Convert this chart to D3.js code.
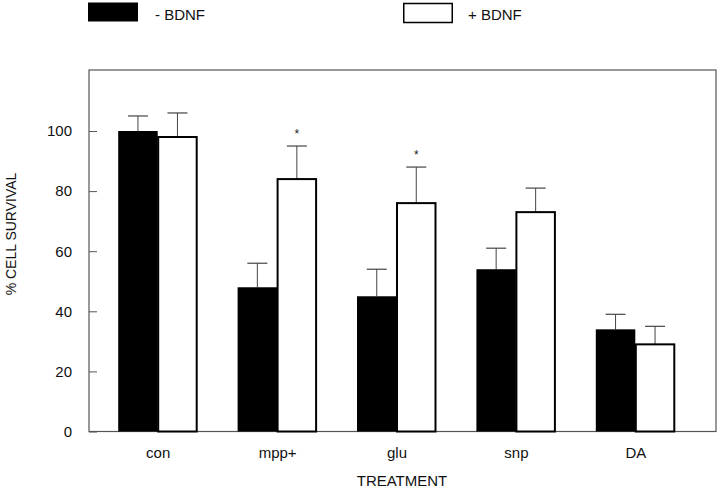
<!DOCTYPE html>
<html>
<head>
<meta charset="utf-8">
<script src="https://cdn.jsdelivr.net/npm/d3@7"></script>
<style>
  body { margin: 0; background: #fff; }
  svg { display: block; font-family: "Liberation Sans", Arial, Helvetica, sans-serif; }
</style>
</head>
<body>
<svg id="chart" width="720" height="488"></svg>
<script>
const categories = ["con", "mpp+", "glu", "snp", "DA"];
const seriesNames = ["- BDNF", "+ BDNF"];
const minusBDNF = [100, 48, 45, 54, 34];
const minusBDNFErr = [5, 8, 9, 7, 5];
const plusBDNF = [98, 84, 76, 73, 29];
const plusBDNFErr = [8, 11, 12, 8, 6];
const significant = [false, true, true, false, false];
const yTicks = [0, 20, 40, 60, 80, 100];
const yLabel = "% CELL SURVIVAL";
const xLabel = "TREATMENT";

const svg = d3.select("#chart");
const pLeft = 89, pRight = 716, pTop = 70, pBottom = 431.5;
const FONT = "Liberation Sans, Arial, sans-serif";

const y = d3.scaleLinear().domain([0, 120.3]).range([pBottom, pTop]);
const x = d3.scaleBand().domain(categories).range([98.5, 695.5]).padding(0);
const sub = d3.scaleBand().domain([0, 1]).range([0, 79]).padding(0);

const data = categories.map((c, i) => ({
  cat: c,
  vals: [
    { s: 0, v: minusBDNF[i], e: minusBDNFErr[i] },
    { s: 1, v: plusBDNF[i], e: plusBDNFErr[i] }
  ],
  sig: significant[i]
}));

const groupX = c => x(c) + x.bandwidth() / 2 - 40;

// frame
svg.append("rect")
  .attr("x", pLeft).attr("y", pTop)
  .attr("width", pRight - pLeft).attr("height", pBottom - pTop)
  .attr("fill", "none").attr("stroke", "#555").attr("stroke-width", 1.2);

// y axis with inward ticks
const yAxis = d3.axisLeft(y).tickValues(yTicks).tickSize(-8).tickPadding(17);
const yg = svg.append("g").attr("transform", `translate(${pLeft},0)`).call(yAxis);
yg.select(".domain").remove();
yg.selectAll(".tick line").attr("stroke", "#555");
yg.selectAll(".tick text").attr("font-size", 15).attr("fill", "#111")
  .attr("font-family", FONT);

// bars
const groups = svg.append("g").selectAll("g").data(data).join("g")
  .attr("transform", d => `translate(${groupX(d.cat)},0)`);

// error bars
groups.selectAll("g.err").data(d => d.vals).join("g").attr("class", "err")
  .each(function(d) {
    const g = d3.select(this);
    const cx = sub(d.s) + sub.bandwidth() / 2;
    g.append("line").attr("x1", cx).attr("x2", cx)
      .attr("y1", y(d.v)).attr("y2", y(d.v + d.e))
      .attr("stroke", "#444").attr("stroke-width", 1);
    g.append("line").attr("x1", cx - 10).attr("x2", cx + 10)
      .attr("y1", y(d.v + d.e)).attr("y2", y(d.v + d.e))
      .attr("stroke", "#444").attr("stroke-width", 1.2);
  });

groups.selectAll("rect").data(d => d.vals).join("rect")
  .attr("x", d => sub(d.s) + (d.s === 1 ? 0.5 : 0))
  .attr("y", d => y(d.v))
  .attr("width", d => sub.bandwidth() - (d.s === 1 ? 1 : 0))
  .attr("height", d => pBottom - y(d.v))
  .attr("fill", d => d.s === 0 ? "#000" : "#fff")
  .attr("stroke", "#000")
  .attr("stroke-width", d => d.s === 0 ? 0 : 2);

// significance stars
groups.filter(d => d.sig).append("text")
  .attr("x", sub(1) + sub.bandwidth() / 2)
  .attr("y", d => y(d.vals[1].v + d.vals[1].e) - 8)
  .attr("text-anchor", "middle")
  .attr("font-size", 12).attr("fill", "#222")
  .text("*");

// x axis labels
const xAxis = d3.axisBottom(x).tickSize(0).tickPadding(16);
const xg = svg.append("g").attr("transform", `translate(0,${pBottom})`).call(xAxis);
xg.select(".domain").remove();
xg.selectAll(".tick text").attr("font-size", 15).attr("fill", "#111")
  .attr("font-family", FONT);

// axis titles
svg.append("text")
  .attr("x", 402).attr("y", 486)
  .attr("text-anchor", "middle").attr("font-size", 15).attr("fill", "#111")
  .text(xLabel);
svg.append("text")
  .attr("transform", `translate(16,234) rotate(-90)`)
  .attr("text-anchor", "middle").attr("font-size", 14).attr("fill", "#111")
  .text(yLabel);

// legend
const legend = [
  { name: seriesNames[0], x: 88, fill: "#000", sw: 0 },
  { name: seriesNames[1], x: 403, fill: "#fff", sw: 1.5 }
];
const lg = svg.append("g").selectAll("g").data(legend).join("g");
lg.append("rect")
  .attr("x", d => d.x + (d.sw ? 0.75 : 0)).attr("y", d => d.sw ? 3.5 : 2.5)
  .attr("width", d => d.sw ? 48.5 : 50).attr("height", 19)
  .attr("fill", d => d.fill).attr("stroke", "#000").attr("stroke-width", d => d.sw);
lg.append("text")
  .attr("x", d => d.x + (d.sw ? 65 : 67)).attr("y", 20)
  .attr("font-size", 15).attr("fill", "#111")
  .text(d => d.name);
</script>
</body>
</html>
